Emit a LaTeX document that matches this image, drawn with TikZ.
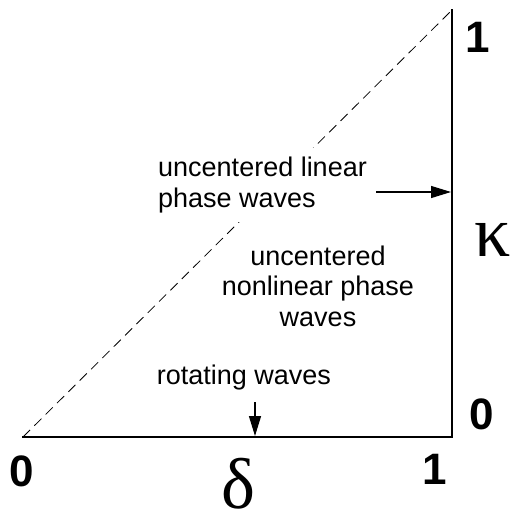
\documentclass[tikz,border=0pt]{standalone}
\usepackage{fontspec}
\setmainfont{Liberation Sans}
\newfontfamily\greekfont{Liberation Serif}
\usetikzlibrary{arrows.meta,positioning}

\begin{document}
\begin{tikzpicture}[x=1pt, y=-1pt,
  region/.style={inner sep=0pt, align=center, font=\fontsize{27}{30.5}\selectfont},
  tick/.style={inner sep=0pt, font=\fontsize{44}{44}\selectfont\bfseries},
  param/.style={inner sep=0pt, font=\fontsize{72}{72}\selectfont\greekfont},
  edge/.style={line width=1.1pt, line cap=rect},
  arr/.style={-{Triangle[length=20pt,width=12pt]}, line width=1.3pt}
]
\useasboundingbox (0,0) rectangle (514,517);
% corners of the parameter triangle
\coordinate (origin) at (23,437);
\coordinate (corner) at (452,437);
\coordinate (apex) at (452,10);
\draw[edge] (origin) -- (corner) -- (apex);
\draw[line width=0.8pt, dash pattern=on 10pt off 6pt] (origin) -- (apex);
% axis ticks and parameters
\node[tick] (dzero) at (22,471) {0};
\node[tick] (done) at (435,469) {1};
\node[tick] (kzero) at (482,414) {0};
\node[tick] (kone) at (478,37) {1};
\node[param] (delta) at (238,484) {δ};
\node[param] (kappa) at (493,240) {κ};
% regions
\node[region, align=left, anchor=west, fill=white, inner sep=9pt] (linear) at (149,185) {uncentered linear\\phase waves};
\node[region] (nonlinear) at (318,286) {uncentered\\nonlinear phase\\waves};
\node[region] (rotating) at (244,378) {rotating waves};
% pointers
\coordinate (lintail) at (376,192);
\coordinate (linhead) at (451,192);
\coordinate (rottail) at (255,402);
\coordinate (rothead) at (255,436);
\draw[arr] (lintail) -- (linhead);
\draw[arr] (rottail) -- (rothead);
\end{tikzpicture}
\end{document}
